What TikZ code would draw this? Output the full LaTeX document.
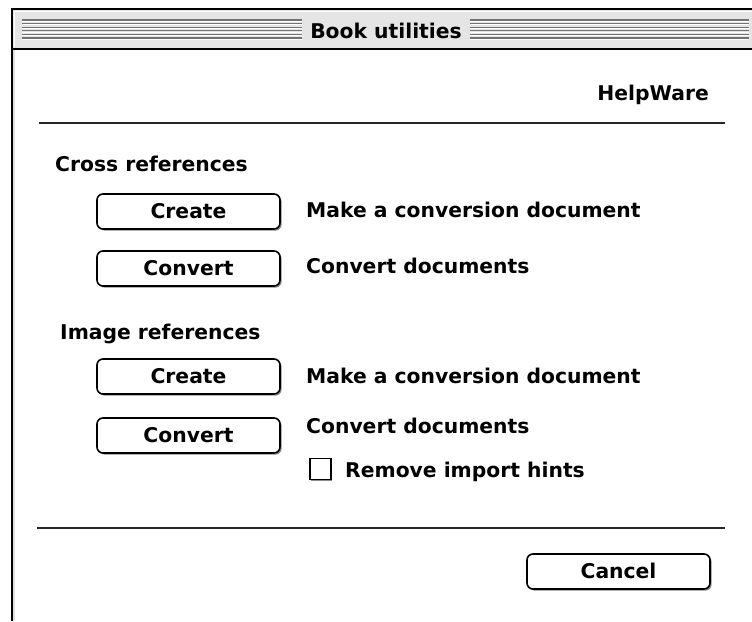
\documentclass[tikz,border=0pt]{standalone}
\usepackage{fontspec}
\setmainfont{DejaVu Sans}
\usetikzlibrary{shadows}
\tikzset{
  lbl/.style={inner sep=0pt, anchor=base west, font=\bfseries\fontsize{20.3}{24}\selectfont},
  btn/.style={draw=black, line width=1.6pt, fill=white, rounded corners=6pt,
    minimum width=183pt, minimum height=35pt, inner sep=0pt,
    text height=14.8pt, text depth=0pt,
    font=\bfseries\fontsize{20.3}{24}\selectfont,
    drop shadow={shadow xshift=1.6pt, shadow yshift=-1.6pt, fill=black!45, opacity=1}},
  chk/.style={draw=black, line width=1.6pt, fill=white, minimum size=21pt, inner sep=0pt,
    drop shadow={shadow xshift=1.2pt, shadow yshift=-1.2pt, fill=black!45, opacity=1}},
  sep/.style={line width=2pt, black!85},
  stripe/.style={line width=1.3pt, black!55},
  hilite/.style={line width=1.1pt, white},
}
\begin{document}
\begin{tikzpicture}[x=1pt,y=-1pt]
\useasboundingbox (0,0) rectangle (752,621);
% window frame and title bar
\fill[gray!20] (13,10) rectangle (752,48);
\draw[white, line width=1pt] (14,11.5) -- (752,11.5);
\draw[white, line width=1pt] (14.5,11) -- (14.5,47);
\foreach \yy in {20,23.6,27.2,30.8,34.4,38} {
  \draw[stripe] (22,\yy) -- (302,\yy);
  \draw[hilite] (22,\yy+1.3) -- (302,\yy+1.3);
  \draw[stripe] (470,\yy) -- (749,\yy);
  \draw[hilite] (470,\yy+1.3) -- (749,\yy+1.3);
}
\draw[black, line width=2pt] (11,9) -- (752,9);
\draw[black, line width=2pt] (12,8) -- (12,621);
\draw[black, line width=2pt] (12,49) -- (752,49);
\draw[gray!25, line width=1.5pt] (14.2,50) -- (14.2,621);
\node[lbl, anchor=base] (title) at (386,38) {Book utilities};

% header
\node[lbl, anchor=base east] (helpware) at (709,100) {HelpWare};
\coordinate (s1a) at (39,123);
\coordinate (s1b) at (725,123);
\draw[sep] (s1a) -- (s1b);

% cross references
\node[lbl] (crossref) at (55,171) {Cross references};
\node[btn] (create1) at (188.5,211.5) {Create};
\node[lbl] (make1) at (306,217) {Make a conversion document};
\node[btn] (convert1) at (188.5,268.5) {Convert};
\node[lbl] (convdoc1) at (306,273) {Convert documents};

% image references
\node[lbl] (imgref) at (60,339) {Image references};
\node[btn] (create2) at (188.5,376.5) {Create};
\node[lbl] (make2) at (306,383) {Make a conversion document};
\node[btn] (convert2) at (188.5,435.5) {Convert};
\node[lbl] (convdoc2) at (306,433) {Convert documents};
\node[chk] (box) at (320.5,469) {};
\node[lbl] (remove) at (345,477) {Remove import hints};

% footer
\coordinate (s2a) at (37,528);
\coordinate (s2b) at (725,528);
\draw[sep] (s2a) -- (s2b);
\node[btn] (cancel) at (618.5,571.5) {Cancel};
\end{tikzpicture}
\end{document}
